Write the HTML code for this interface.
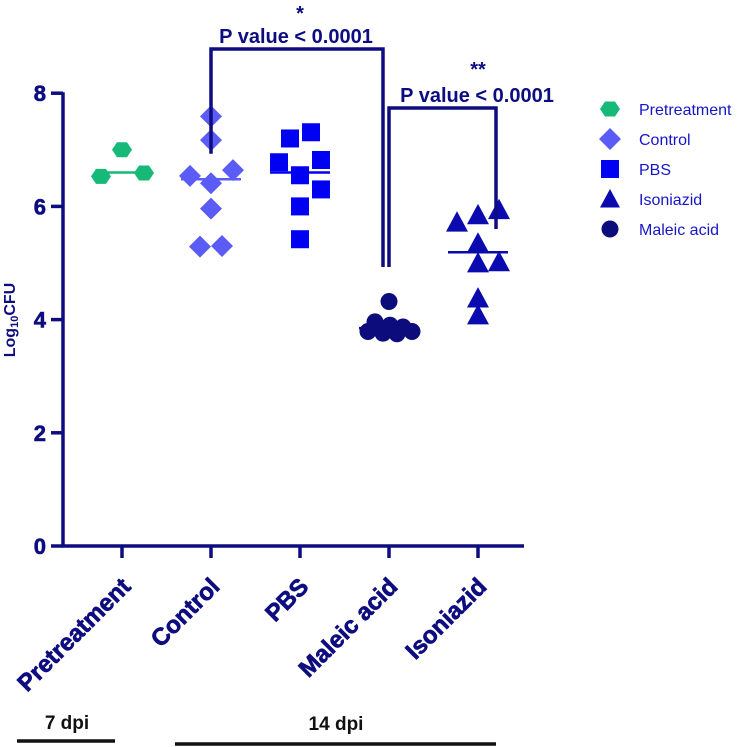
<!DOCTYPE html>
<html><head><meta charset="utf-8"><style>
body{margin:0;background:#fff}
svg{display:block;font-family:"Liberation Sans",Arial,sans-serif}
</style></head><body>
<svg id="chart" width="744" height="747" viewBox="0 0 744 747">
<g id="axes"></g><g id="marks"></g><g id="annot"></g><g id="legend"></g>
</svg>
<script>
const categories = ["Pretreatment","Control","PBS","Maleic acid","Isoniazid"];
const pretreatmentValues = [6.53, 7.0, 6.59];
const controlValues = [7.59, 7.17, 6.64, 6.54, 6.41, 5.96, 5.29, 5.3];
const pbsValues = [7.2, 7.31, 6.78, 6.82, 6.55, 6.30, 6.0, 5.42];
const maleicValues = [4.32, 3.96, 3.9, 3.87, 3.79, 3.76, 3.75, 3.79];
const isoniazidValues = [5.94, 5.85, 5.72, 5.35, 5.0, 5.02, 4.38, 4.08];
const medians = [6.6, 6.48, 6.6, 3.85, 5.19];
const yTicks = [0, 2, 4, 6, 8];
const jitterPre = [-21, 0, 22];
const jitterCtl = [0, 0, 22, -21, 0, 0, -11, 11];
const jitterPbs = [-10, 11, -21, 21, 0, 21, 0, 0];
const jitterMal = [0, -14, 1, 14, -21, -6, 8, 23];
const jitterIso = [21, 0, -21, 0, 0, 21, 0, 0];

const NS="http://www.w3.org/2000/svg";
const NAVY="#0d0d80";
const y0=546, pxPerUnit=56.6;
function yScale(v){return y0 - v*pxPerUnit;}
function xScale(i){return 122 + i*89;}
function mk(tag, attrs, parent){const e=document.createElementNS(NS,tag);for(const k in attrs)e.setAttribute(k,attrs[k]);parent.appendChild(e);return e;}
const axes=document.getElementById('axes'), marks=document.getElementById('marks'), annot=document.getElementById('annot'), legend=document.getElementById('legend');

// axes
let yl=mk('line',{x1:63,y1:yScale(8)-1,x2:63,y2:y0+1.5,stroke:NAVY,'stroke-width':3.5},axes);


let xl=mk('line',{x1:61.5,y1:y0,x2:524,y2:y0,stroke:NAVY,'stroke-width':3.5},axes);


yTicks.forEach(t=>{
  const y=yScale(t);
  let tk=mk('line',{x1:51,y1:y,x2:63,y2:y,stroke:NAVY,'stroke-width':3.5},axes);
  
  
  let tl=mk('text',{x:46,y:y+8,'text-anchor':'end','font-size':22,'font-weight':'bold',fill:NAVY,stroke:NAVY,'stroke-width':0.6},axes);
  tl.textContent=t;
  
  
});
categories.forEach((c,i)=>{
  const x=xScale(i);
  let tk=mk('line',{x1:x,y1:y0,x2:x,y2:y0+12,stroke:NAVY,'stroke-width':3.5},axes);
  
  
  let tl=mk('text',{x:x+10,y:y0+42,'text-anchor':'end','font-size':24,'font-weight':'bold',fill:NAVY,stroke:NAVY,'stroke-width':0.7,transform:`rotate(-45 ${x+10} ${y0+42})`},axes);
  tl.textContent=c;
  
  
});
let yt=mk('text',{x:0,y:0,'text-anchor':'middle','font-size':16,'font-weight':'bold',fill:NAVY,transform:'translate(15 320) rotate(-90)'},axes);
yt.innerHTML='Log<tspan font-size="11" dy="3">10</tspan><tspan dy="-3">CFU</tspan>';



// markers
function hexagon(cx,cy,r,fill,parent){
  const p=[];for(let k=0;k<6;k++){const a=Math.PI/3*k;p.push((cx+r*Math.cos(a)).toFixed(1)+','+(cy+r*0.87*Math.sin(a)).toFixed(1));}
  return mk('polygon',{points:p.join(' '),fill:fill},parent);
}
function diamond(cx,cy,r,fill,parent){return mk('polygon',{points:`${cx},${cy-r} ${cx+r},${cy} ${cx},${cy+r} ${cx-r},${cy}`,fill:fill},parent);}
function square(cx,cy,r,fill,parent){return mk('rect',{x:cx-r,y:cy-r,width:2*r,height:2*r,fill:fill},parent);}
function triangle(cx,cy,r,fill,parent){return mk('polygon',{points:`${cx},${cy-r} ${cx+r},${cy+r*0.85} ${cx-r},${cy+r*0.85}`,fill:fill},parent);}
function circle(cx,cy,r,fill,parent){return mk('circle',{cx:cx,cy:cy,r:r,fill:fill},parent);}

const series=[
 {vals:pretreatmentValues,jit:jitterPre,fn:hexagon,r:10,color:"#17b978",name:"pretreatment-point",lw:[-21,22]},
 {vals:controlValues,jit:jitterCtl,fn:diamond,r:11,color:"#5b5bf5",name:"control-point",lw:[-30,30]},
 {vals:pbsValues,jit:jitterPbs,fn:square,r:9,color:"#0000f2",name:"pbs-point",lw:[-30,30]},
 {vals:maleicValues,jit:jitterMal,fn:circle,r:8.5,color:"#0c0c7c",name:"maleic-acid-point",lw:[-30,30]},
 {vals:isoniazidValues,jit:jitterIso,fn:triangle,r:11,color:"#0a0aae",name:"isoniazid-point",lw:[-30,30]}
];
series.forEach((s,i)=>{
  const cx=xScale(i);
  s.vals.forEach((v,j)=>{
    const e=s.fn(cx+s.jit[j],yScale(v),s.r,s.color,marks);
    
    
  });
  const m=mk('line',{x1:cx+s.lw[0],x2:cx+s.lw[1],y1:yScale(medians[i]),y2:yScale(medians[i]),stroke:s.color,'stroke-width':2.5},marks);
  
  
});

// brackets
let b1=mk('polyline',{points:`${xScale(1)},${yScale(6.93)} ${xScale(1)},49 383,49 383,267`,fill:'none',stroke:NAVY,'stroke-width':3.5},annot);


let b2=mk('polyline',{points:`389,267 389,108 496,108 496,${yScale(5.6)}`,fill:'none',stroke:NAVY,'stroke-width':3.5},annot);


[[296,43,'P value < 0.0001','p-value-label-1'],[300,20,'*','significance-star-1'],[477,102,'P value < 0.0001','p-value-label-2'],[478,76,'**','significance-star-2']].forEach(a=>{
  const t=mk('text',{x:a[0],y:a[1],'text-anchor':'middle','font-size':20,'font-weight':'bold',fill:NAVY},annot);
  t.textContent=a[2];
  
  
});
// dpi
let t7=mk('text',{x:67,y:729,'text-anchor':'middle','font-size':19,'font-weight':'bold',fill:'#111'},annot);
t7.textContent='7 dpi';


let l7=mk('line',{x1:17,x2:115,y1:741,y2:741,stroke:'#111','stroke-width':3.5},annot);


let t14=mk('text',{x:336,y:730,'text-anchor':'middle','font-size':19,'font-weight':'bold',fill:'#111'},annot);
t14.textContent='14 dpi';


let l14=mk('line',{x1:175,x2:496,y1:744,y2:744,stroke:'#111','stroke-width':3.5},annot);



// legend
const legendOrder=[0,1,2,4,3];
const legendLabels=["Pretreatment","Control","PBS","Isoniazid","Maleic acid"];
legendOrder.forEach((si,k)=>{
  const s=series[si], y=109+k*30;
  const g=mk('g',{},legend);
  
  
  s.fn(610,y,s.fn===triangle?10:s.r,s.color,g);
  const t=mk('text',{x:639,y:y+6,'font-size':16,fill:'#1616c8'},g);
  t.textContent=legendLabels[k];
});
</script>
</body></html>
